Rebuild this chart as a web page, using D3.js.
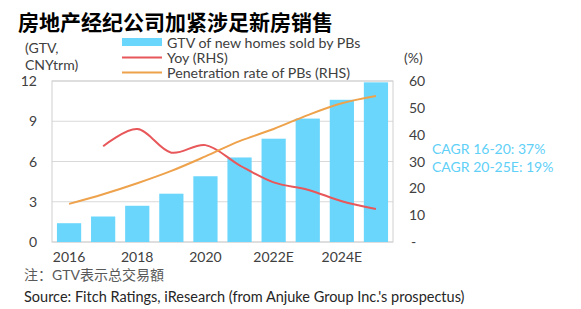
<!DOCTYPE html>
<html><head><meta charset="utf-8">
<script src="https://cdn.jsdelivr.net/npm/d3@7"></script>
<style>body{margin:0;background:#fff;}svg{display:block;}</style>
</head><body><svg id="c" width="581" height="309"></svg>
<script>
const categories = ["2016","2017","2018","2019","2020","2021","2022E","2023E","2024E","2025E"];
const gtv = [1.4,1.9,2.7,3.6,4.9,6.3,7.7,9.2,10.6,11.9];
const yoy = [null,35.7,42.1,33.3,36.1,28.6,22.2,19.5,15.2,12.3];
const penetration = [14.2,17.8,21.9,26.5,31.9,37.6,42.1,47.3,51.7,54.4];
const leftTicks = [0,3,6,9,12];
const rightTicks = [0,10,20,30,40,50,60];
const xLabels = ["2016","2018","2020","2022E","2024E"];

const svg = d3.select("#c");
const latin = "Lato, 'Noto Sans', sans-serif";
const L = 52, R = 393, T = 81, B = 242;
const x = d3.scaleBand().domain(categories).range([L,R]).paddingInner(0.29).paddingOuter(0.145);
const xc = d => x(d) + x.bandwidth()/2;
const yL = d3.scaleLinear().domain([0,12]).range([B,T]);
const yR = d3.scaleLinear().domain([0,60]).range([B,T]);

// title
svg.append("text").attr("x",18).attr("y",30).attr("font-family","'Noto Sans CJK SC'")
  .attr("font-weight","bold").attr("font-size",21).attr("fill","#000").text("房地产经纪公司加紧涉足新房销售");

// gridlines
svg.append("g").selectAll("line").data(leftTicks).join("line")
  .attr("x1",L).attr("x2",R).attr("y1",d=>yL(d)).attr("y2",d=>yL(d))
  .attr("stroke","#d9d9d9").attr("stroke-width",1);
// frame
svg.append("rect").attr("x",L).attr("y",T).attr("width",R-L).attr("height",B-T)
  .attr("fill","none").attr("stroke","#d0d0d0").attr("stroke-width",1);

// bars
svg.append("g").selectAll("rect").data(categories).join("rect")
  .attr("x",d=>x(d)).attr("width",x.bandwidth())
  .attr("y",(d,i)=>yL(gtv[i])).attr("height",(d,i)=>B-yL(gtv[i]))
  .attr("fill","#6ad6fc");

// lines
const line = d3.line().defined(d=>d.v!=null).x(d=>xc(d.c)).y(d=>yR(d.v)).curve(d3.curveCatmullRom.alpha(0.5));
svg.append("path").datum(categories.map((c,i)=>({c,v:yoy[i]})))
  .attr("d",line).attr("fill","none").attr("stroke","#e8575a").attr("stroke-width",2);
svg.append("path").datum(categories.map((c,i)=>({c,v:penetration[i]})))
  .attr("d",line).attr("fill","none").attr("stroke","#eea24c").attr("stroke-width",2);

// left axis labels
svg.append("g").selectAll("text").data(leftTicks).join("text")
  .attr("x",37).attr("y",d=>yL(d)+5).attr("text-anchor","end")
  .attr("font-family",latin).attr("font-size",14).attr("fill","#404040").text(d=>d);
svg.append("text").attr("x",25).attr("y",53).attr("font-family",latin).attr("font-size",14).attr("fill","#404040").text("(GTV,");
svg.append("text").attr("x",25).attr("y",70).attr("font-family",latin).attr("font-size",14).attr("fill","#404040").text("CNYtrm)");

// right axis labels
svg.append("g").selectAll("text").data(rightTicks).join("text")
  .attr("x",d=>d===0?411:409).attr("y",d=>yR(d)+5)
  .attr("font-family",latin).attr("font-size",14).attr("fill","#404040").text(d=>d===0?"-":d);
svg.append("text").attr("x",404).attr("y",63).attr("font-family",latin).attr("font-size",14).attr("fill","#404040").text("(%)");

// x labels
svg.append("g").selectAll("text").data(xLabels).join("text")
  .attr("x",d=>xc(d)).attr("y",262).attr("text-anchor","middle")
  .attr("font-family",latin).attr("font-size",14).attr("fill","#404040").text(d=>d);

// legend
const lg = svg.append("g").attr("font-family",latin).attr("font-size",14.2).attr("fill","#404040");
lg.append("rect").attr("x",122).attr("y",38).attr("width",40).attr("height",8).attr("fill","#6ad6fc");
lg.append("text").attr("x",167).attr("y",47.5).text("GTV of new homes sold by PBs");
lg.append("line").attr("x1",122).attr("x2",162).attr("y1",57.5).attr("y2",57.5).attr("stroke","#e8575a").attr("stroke-width",2);
lg.append("text").attr("x",167).attr("y",62.5).text("Yoy (RHS)");
lg.append("line").attr("x1",122).attr("x2",162).attr("y1",72.5).attr("y2",72.5).attr("stroke","#eea24c").attr("stroke-width",2);
lg.append("text").attr("x",167).attr("y",77.5).text("Penetration rate of PBs (RHS)");

// CAGR
svg.append("text").attr("x",432).attr("y",154).attr("font-family",latin).attr("font-size",14).attr("fill","#5fd0f7").text("CAGR 16-20: 37%");
svg.append("text").attr("x",432).attr("y",171.5).attr("font-family",latin).attr("font-size",14).attr("fill","#5fd0f7").text("CAGR 20-25E: 19%");

// footer
svg.append("text").attr("x",24).attr("y",280).attr("font-family","Lato, 'Noto Sans CJK SC'").attr("font-size",14).attr("fill","#595959").text("注：GTV表示总交易額");
svg.append("text").attr("x",24).attr("y",302).attr("font-family",latin).attr("font-size",14.5).attr("fill","#262626").text("Source: Fitch Ratings, iResearch (from Anjuke Group Inc.'s prospectus)");
</script></body></html>
